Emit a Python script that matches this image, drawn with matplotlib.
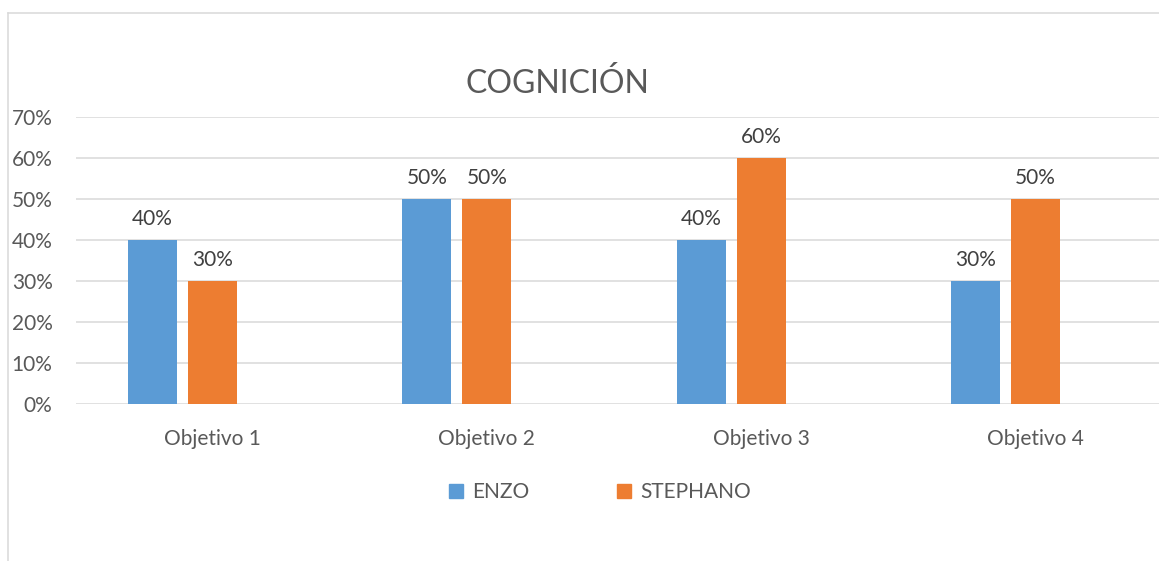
import numpy as np
import matplotlib
matplotlib.use("Agg")
import matplotlib.pyplot as plt
from matplotlib.lines import Line2D
from matplotlib.patches import Patch
from matplotlib.ticker import PercentFormatter

# data
categories = ["Objetivo 1", "Objetivo 2", "Objetivo 3", "Objetivo 4"]
enzo = [0.40, 0.50, 0.40, 0.30]
stephano = [0.30, 0.50, 0.60, 0.50]
y_ticks = [0, 0.1, 0.2, 0.3, 0.4, 0.5, 0.6, 0.7]

plt.rcParams['font.family'] = ['Lato', 'DejaVu Sans']

W, H = 1159, 561
fig = plt.figure(figsize=(W / 100, H / 100), dpi=100)

# plot area runs past the right edge, like the cropped excel chart
ax = fig.add_axes([75.5 / W, 1 - 404.3 / H, 1097 / W, 287 / H])

x = np.arange(len(categories))
bw = 0.1786
off = 0.2187
ax.bar(x - off, enzo, bw, color="#5B9BD5", zorder=3)
ax.bar(x, stephano, bw, color="#ED7D31", zorder=3)

for xi, v in zip(x - off, enzo):
    ax.annotate(f"{v:.0%}", (xi, v), xytext=(0, 11), textcoords="offset points",
                ha="center", va="baseline", fontsize=15, color="#404040")
for xi, v in zip(x, stephano):
    ax.annotate(f"{v:.0%}", (xi, v), xytext=(0, 11), textcoords="offset points",
                ha="center", va="baseline", fontsize=15, color="#404040")

ax.set_xlim(-0.5, 3.5)
ax.set_ylim(0, 0.7)
ax.set_yticks(y_ticks)
ax.yaxis.set_major_formatter(PercentFormatter(1.0, decimals=0))
ax.set_xticks(x)
ax.set_xticklabels(categories)
ax.tick_params(axis="both", length=0, labelsize=15, labelcolor="#595959")
ax.tick_params(axis="y", pad=16.5)
ax.tick_params(axis="x", pad=18)
ax.grid(axis="y", color="#D9D9D9", linewidth=1.1, zorder=0)
for s in ax.spines.values():
    s.set_visible(False)

fig.text(557.5 / W, 1 - 93 / H, "COGNICIÓN", ha="center", va="baseline",
         fontsize=23, color="#595959")

handles = [Patch(color="#5B9BD5", label="ENZO"), Patch(color="#ED7D31", label="STEPHANO")]
fig.legend(handles=handles, loc="center", bbox_to_anchor=(600 / W, 1 - 492 / H),
           ncol=2, frameon=False, fontsize=15, labelcolor="#595959",
           handlelength=0.66, handleheight=0.66, handletextpad=0.45, columnspacing=4.2)

# chart border (only top and left visible in the crop)
fig.add_artist(Line2D([8 / W, 8 / W], [0, 1 - 12.5 / H], color="#D9D9D9", linewidth=1.1))
fig.add_artist(Line2D([8 / W, 1], [1 - 12.5 / H, 1 - 12.5 / H], color="#D9D9D9", linewidth=1.1))

fig.savefig("out.png", dpi=100, facecolor="white")
